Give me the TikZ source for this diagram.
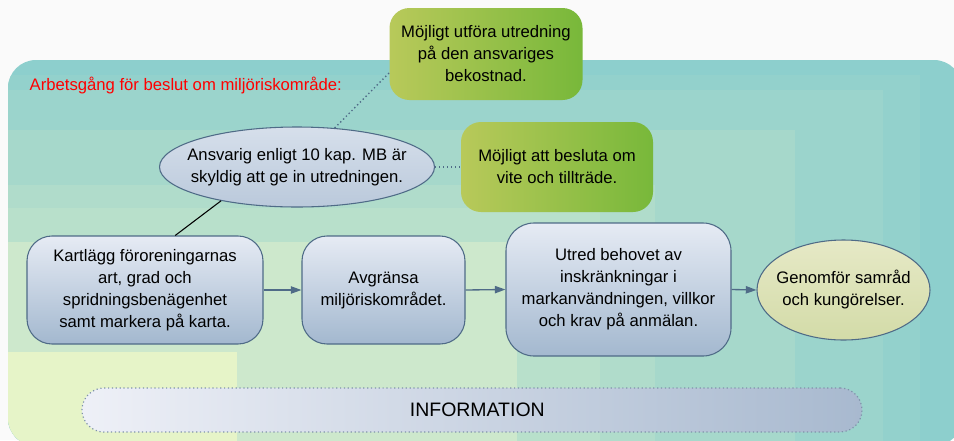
\documentclass[tikz,border=0pt]{standalone}
\usepackage{fontspec}
\setmainfont{Liberation Sans}
\usetikzlibrary{arrows.meta,shapes.geometric}
\definecolor{bg0}{HTML}{8DCFCD}
\definecolor{bg1}{HTML}{93D1CC}
\definecolor{bg2}{HTML}{9BD4CC}
\definecolor{bg3}{HTML}{A6D8CB}
\definecolor{bg4}{HTML}{B0DCCB}
\definecolor{bg5}{HTML}{B8E0CB}
\definecolor{bg6}{HTML}{CDE8CC}
\definecolor{bg7}{HTML}{E6F4C8}
\definecolor{edge}{HTML}{4F6B87}
\definecolor{gL}{HTML}{B8C95A}
\definecolor{gR}{HTML}{78B83A}
\definecolor{bT}{HTML}{E6EBF4}
\definecolor{bB}{HTML}{A3B8CF}
\definecolor{eT}{HTML}{D6DFEB}
\definecolor{eB}{HTML}{BAC9DB}
\definecolor{yT}{HTML}{E6E9C6}
\definecolor{yB}{HTML}{D3DBA8}
\definecolor{iL}{HTML}{EEF0F7}
\definecolor{iR}{HTML}{A8B9CF}
\definecolor{idot}{HTML}{7F93AA}
\tikzset{
  txt/.style={font=\fontsize{12.5}{16.5}\selectfont, align=center, text=black},
  greenbox/.style={txt, rounded corners=15pt, left color=gL, right color=gR, inner sep=0pt},
  bluebox/.style={txt, draw=edge, line width=0.8pt, rounded corners=18.75pt, top color=bT, bottom color=bB, inner sep=0pt},
  ellbox/.style={txt, ellipse, draw=edge, line width=0.8pt, inner ysep=0pt},
  flow/.style={draw=edge, line width=1pt, -{Triangle[length=8pt,width=5.5pt]}},
  dotlink/.style={draw=edge, line width=1pt, dotted},
}
\begin{document}
\begin{tikzpicture}[x=0.75pt,y=-0.75pt]
\useasboundingbox (0,0) rectangle (954,440);
\fill[white!98!black] (0,0) rectangle (954,440);
% background panel
\begin{scope}
\clip[rounded corners=21pt] (8,60) rectangle (962,446);
\fill[bg0] (8,60) rectangle (962,446);
\fill[bg1] (8,446) rectangle (920,75);
\fill[bg2] (8,446) rectangle (883,90);
\fill[bg3] (8,446) rectangle (795,130);
\fill[bg4] (8,446) rectangle (655,185);
\fill[bg5] (8,446) rectangle (600,208);
\fill[bg6] (8,446) rectangle (517,242);
\fill[bg7] (8,446) rectangle (237,352);
\end{scope}

\node[anchor=west, text=red, font=\fontsize{12.5}{15}\selectfont] (title) at (25,86) {Arbetsgång för beslut om miljöriskområde:};

\node[greenbox, minimum width=144.75pt, minimum height=69pt] (g1) at (486,54) {Möjligt utföra utredning\\på den ansvariges\\bekostnad.};
\node[greenbox, minimum width=144pt, minimum height=67.5pt] (g2) at (557,167) {Möjligt att besluta om\\vite och tillträde.};

\node[ellbox, top color=eT, bottom color=eB, inner xsep=-14pt, minimum width=206.25pt, minimum height=60pt] (e1) at (297,167) {Ansvarig enligt 10 kap. MB är\\skyldig att ge in utredningen.};

\node[bluebox, minimum width=177pt, minimum height=81pt] (k1) at (145,290) {Kartlägg föroreningarnas\\art, grad och\\spridningsbenägenhet\\samt markera på karta.};
\node[bluebox, minimum width=122.25pt, minimum height=81pt] (a1) at (383.5,290) {Avgränsa\\miljöriskområdet.};
\node[bluebox, rounded corners=21pt, minimum width=168.75pt, minimum height=99.75pt] (u1) at (618.5,289.5) {Utred behovet av\\inskränkningar i\\markanvändningen, villkor\\och krav på anmälan.};
\node[ellbox, top color=yT, bottom color=yB, inner xsep=-6pt, minimum width=129.75pt, minimum height=75pt] (s1) at (843.5,290) {Genomför samråd\\och kungörelser.};

\node[draw=idot, dotted, line width=0.9pt, rounded corners=16.5pt, left color=iL, right color=iR, minimum width=585pt, minimum height=33pt, font=\fontsize{14.6}{17}\selectfont] (info) at (472,410) {\hspace{8pt}INFORMATION};

\draw[dotlink] (e1.46) -- (g1.191);
\draw[dotlink] (e1.east) -- (g2.west);
\draw[black, line width=0.8pt] (e1.204) -- (k1.61);
\draw[flow] (k1.east) -- (a1.west);
\draw[flow] (a1.east) -- (u1.west);
\draw[flow] (u1.east) -- (s1.west);
\end{tikzpicture}
\end{document}
